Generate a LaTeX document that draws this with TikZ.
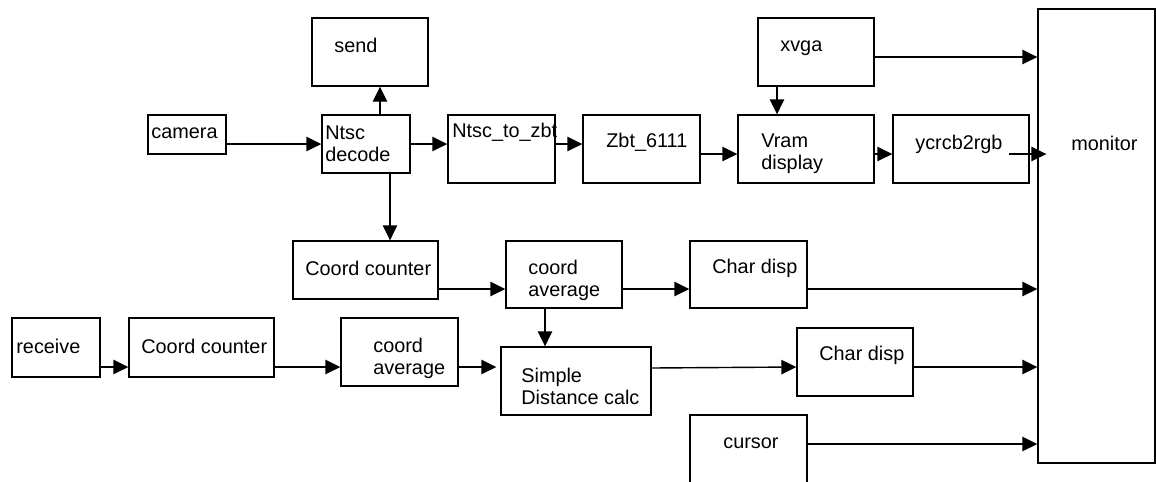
\documentclass[tikz,border=0pt]{standalone}
\usepackage{fontspec}
\setmainfont{Liberation Sans}
\usetikzlibrary{arrows.meta,fit}
\tikzset{
  blk/.style={draw, line width=0.8pt, inner sep=0pt},
  txt/.style={anchor=west, inner sep=0pt, align=left,
    font=\fontsize{11.3}{12.5}\selectfont},
  arr/.style={line width=0.8pt, -{Triangle[length=0.3cm,width=0.29cm]}}
}
\begin{document}
\begin{tikzpicture}[x=0.02cm, y=-0.02cm]
\clip (0,0) rectangle (1156,481);
\fill [white] (0,0) rectangle (1156,481);
% boxes
\node [blk, fit={(312,18) (428,86)}] (send) {};
\node [blk, fit={(148,115) (226,154)}] (camera) {};
\node [blk, fit={(322,115) (410,173)}] (ntsc) {};
\node [blk, fit={(448,115) (555,183)}] (ntsczbt) {};
\node [blk, fit={(583,115) (700,183)}] (zbt) {};
\node [blk, fit={(758,18) (874,86)}] (xvga) {};
\node [blk, fit={(738,115) (874,183)}] (vram) {};
\node [blk, fit={(893,115) (1029,183)}] (ycrcb) {};
\node [blk, fit={(1038,9) (1155,463)}] (monitor) {};
\node [blk, fit={(293,241) (438,299)}] (cntA) {};
\node [blk, fit={(506,241) (622,308)}] (avgA) {};
\node [blk, fit={(690,241) (807,308)}] (charA) {};
\node [blk, fit={(12,318) (100,377)}] (receive) {};
\node [blk, fit={(129,318) (274,377)}] (cntB) {};
\node [blk, fit={(341,318) (458,386)}] (avgB) {};
\node [blk, fit={(501,347) (651,415)}] (dist) {};
\node [blk, fit={(797,328) (913,396)}] (charB) {};
\node [blk, fit={(690,415) (807,520)}] (cursor) {};
% labels
\node [txt] (send-t) at (334,45) {send};
\node [txt] (camera-t) at (151,133) {camera};
\node [txt] (ntsc-t) at (325,144) {Ntsc\\decode};
\node [txt] (ntsczbt-t) at (452,132) {Ntsc\_to\_zbt};
\node [txt] (zbt-t) at (606,142) {Zbt\_6111};
\node [txt] (xvga-t) at (780,48) {xvga};
\node [txt] (vram-t) at (761,154) {Vram\\display};
\node [txt] (ycrcb-t) at (915,144) {ycrcb2rgb};
\node [txt] (monitor-t) at (1071,143) {monitor};
\node [txt] (cntA-t) at (305,268) {Coord counter};
\node [txt] (avgA-t) at (528,280) {coord\\average};
\node [txt] (charA-t) at (712,268) {Char disp};
\node [txt] (receive-t) at (16,346) {receive};
\node [txt] (cntB-t) at (141,346) {Coord counter};
\node [txt] (avgB-t) at (373,358) {coord\\average};
\node [txt] (dist-t) at (521,386) {Simple\\Distance calc};
\node [txt] (charB-t) at (819,355) {Char disp};
\node [txt] (cursor-t) at (723,443) {cursor};
% connectors
\draw [arr] (camera.east |- 0,144) -- (ntsc.west |- 0,144);
\draw [arr] (ntsc.north -| 380,0) -- (send.south -| 380,0);
\draw [arr] (ntsc.south -| 390,0) -- (cntA.north -| 390,0);
\draw [arr] (ntsc.east |- 0,144) -- (ntsczbt.west |- 0,144);
\draw [arr] (ntsczbt.east |- 0,144) -- (zbt.west |- 0,144);
\draw [arr] (zbt.east |- 0,154) -- (vram.west |- 0,154);
\draw [arr] (xvga.south -| 777,0) -- (vram.north -| 777,0);
\draw [arr] (xvga.east |- 0,57) -- (monitor.west |- 0,57);
\draw [arr] (vram.east |- 0,154) -- (ycrcb.west |- 0,154);
\coordinate (ycout) at (1009,154);
\draw [arr] (ycout) -- ([xshift=0.18cm]monitor.west |- ycout);
\draw [arr] (cntA.east |- 0,289) -- (avgA.west |- 0,289);
\draw [arr] (avgA.east |- 0,289) -- (charA.west |- 0,289);
\draw [arr] (charA.east |- 0,289) -- (monitor.west |- 0,289);
\draw [arr] (avgA.south -| 545,0) -- (dist.north -| 545,0);
\draw [arr] (receive.east |- 0,367) -- (cntB.west |- 0,367);
\draw [arr] (cntB.east |- 0,367) -- (avgB.west |- 0,367);
\draw [arr, shorten >=0.08cm] (avgB.east |- 0,367) -- (dist.west |- 0,367);
\draw [arr] (dist.east |- 0,368) -- (charB.west |- 0,367);
\draw [arr] (charB.east |- 0,367) -- (monitor.west |- 0,367);
\draw [arr] (cursor.east |- 0,444) -- (monitor.west |- 0,444);
\end{tikzpicture}
\end{document}
